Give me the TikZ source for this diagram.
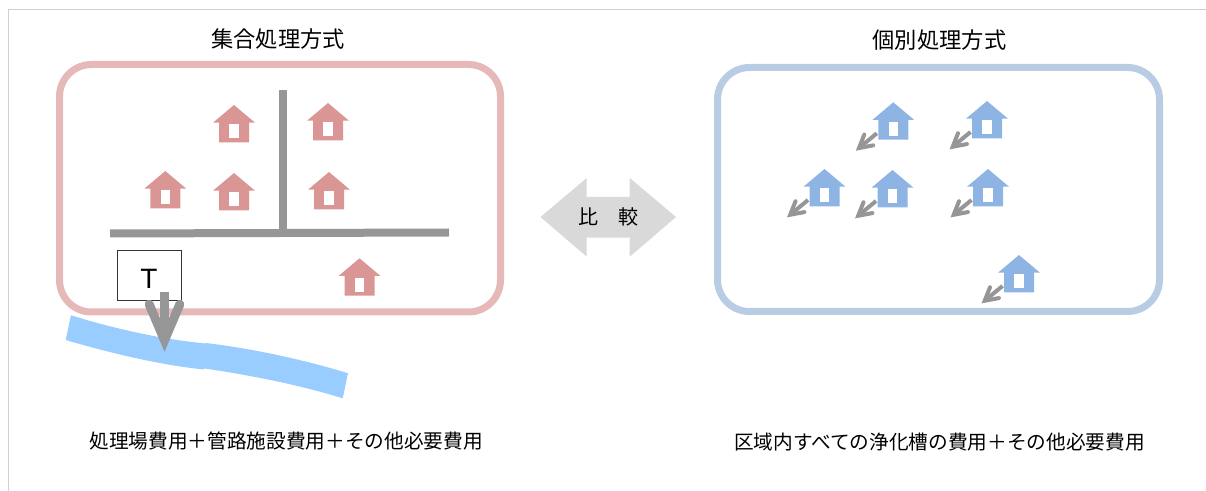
\documentclass[tikz,border=0pt]{standalone}
\usepackage{fontspec}
\setmainfont{Noto Sans CJK JP}
\newfontfamily\latinfont{Liberation Sans}
\usetikzlibrary{arrows.meta}
\definecolor{framered}{HTML}{E6B8B7}
\definecolor{frameblue}{HTML}{B8CCE4}
\definecolor{housered}{HTML}{D99694}
\definecolor{houseblue}{HTML}{8EB4E3}
\definecolor{roadgray}{HTML}{969696}
\definecolor{rivercol}{HTML}{99CCFF}
\definecolor{bothgray}{HTML}{D9D9D9}
\definecolor{edgegray}{HTML}{D0D0D0}
\tikzset{
  frame/.style={line width=5.25pt,rounded corners=24pt},
  road/.style={draw=roadgray,line width=6pt},
  pipe/.style={draw=roadgray,line width=3pt,-{Straight Barb[line cap=round,line join=miter,length=9.5pt,width=10.5pt]}},
  outfall/.style={draw=roadgray,line width=6.75pt,-{Straight Barb[line cap=round,line join=miter,length=27pt,width=23pt]}},
  title/.style={font=\fontsize{16.7pt}{20pt}\selectfont,inner sep=0pt},
  cost/.style={font=\fontsize{14.75pt}{18pt}\selectfont,inner sep=0pt},
  house/.pic={
    \fill[#1] (0,0) -- (21,17.7) -- (15,17.7) -- (15,37.3) -- (-15,37.3)
      -- (-15,17.7) -- (-21,17.7) -- cycle;
    \fill[white] (-4.7,19.3) rectangle (4.7,33.3);
    \coordinate (-out) at (-16.5,31);
    \coordinate (-in) at (-37.5,48.4);
  }
}
\begin{document}
\begin{tikzpicture}[x=0.75pt,y=-0.75pt]
  \useasboundingbox (0,0) rectangle (1206,491);
  \coordinate (c0) at (8.5,491);
  \coordinate (c1) at (8.5,9.5);
  \coordinate (c2) at (1206,9.5);
  \draw[edgegray,line width=0.75pt] (c0) -- (c1) -- (c2);

  \node[title] (t0) at (278,39) {集合処理方式};
  \node[title] (t1) at (939.5,40) {個別処理方式};

  \draw[frame,framered] (59.5,64.5) rectangle (500.5,312);
  \draw[frame,frameblue] (717.5,67.5) rectangle (1159.5,311.5);

  \coordinate (r0) at (110,233.5);
  \coordinate (r1) at (449,232.5);
  \coordinate (r2) at (283,90);
  \coordinate (r3) at (283,233);
  \draw[road] (r0) -- (r1);
  \draw[road] (r2) -- (r3);

  \pic at (234,105) {house=housered};
  \pic at (328,103) {house=housered};
  \pic at (165.3,171) {house=housered};
  \pic at (234,173) {house=housered};
  \pic at (329,172) {house=housered};
  \pic at (359.5,258.3) {house=housered};

  \pic (b0) at (893.3,102.3) {house=houseblue};
  \pic (b1) at (987,101) {house=houseblue};
  \pic (b2) at (824.5,169) {house=houseblue};
  \pic (b3) at (892.5,170) {house=houseblue};
  \pic (b4) at (988,169) {house=houseblue};
  \pic (b5) at (1019,255) {house=houseblue};

  \draw[pipe] (b0-out) -- (b0-in);
  \draw[pipe] (b1-out) -- (b1-in);
  \draw[pipe] (b2-out) -- (b2-in);
  \draw[pipe] (b3-out) -- (b3-in);
  \draw[pipe] (b4-out) -- (b4-in);
  \draw[pipe] (b5-out) -- (b5-in);

  \fill[rivercol] (71,315.3) .. controls (115,329) and (165,340) .. (208.3,343.7)
    -- (204,369.5) .. controls (160,365) and (110,353) .. (65.7,340) -- cycle;
  \fill[rivercol] (206,343) .. controls (255,349) and (305,360) .. (348,373.3)
    -- (342.7,398.3) .. controls (300,385) and (250,375) .. (201,368) -- cycle;

  \node[draw=black!80,line width=0.75pt,fill=white,minimum width=48pt,
    minimum height=37.1pt,inner sep=0pt] (tank) at (149.8,275.5) {};
  \node[font=\latinfont\fontsize{21pt}{22pt}\selectfont,inner sep=0pt] (tanklabel) at (149,278.5) {T};
  \coordinate (f0) at (164.5,292.5);
  \coordinate (f1) at (164.5,351.7);
  \draw[outfall] (f0) -- (f1);

  \fill[bothgray] (540.5,217) -- (586.7,178) -- (586.7,197) -- (629.7,197) -- (629.7,178)
    -- (676,217) -- (629.7,256.7) -- (629.7,237.7) -- (586.7,237.7) -- (586.7,256.7) -- cycle;
  \node[font=\fontsize{15pt}{18pt}\selectfont,inner sep=0pt] (both) at (608,217) {比　較};

  \node[cost] (k0) at (286,441) {処理場費用＋管路施設費用＋その他必要費用};
  \node[cost] (k1) at (939.5,442) {区域内すべての浄化槽の費用＋その他必要費用};

\end{tikzpicture}
\end{document}
